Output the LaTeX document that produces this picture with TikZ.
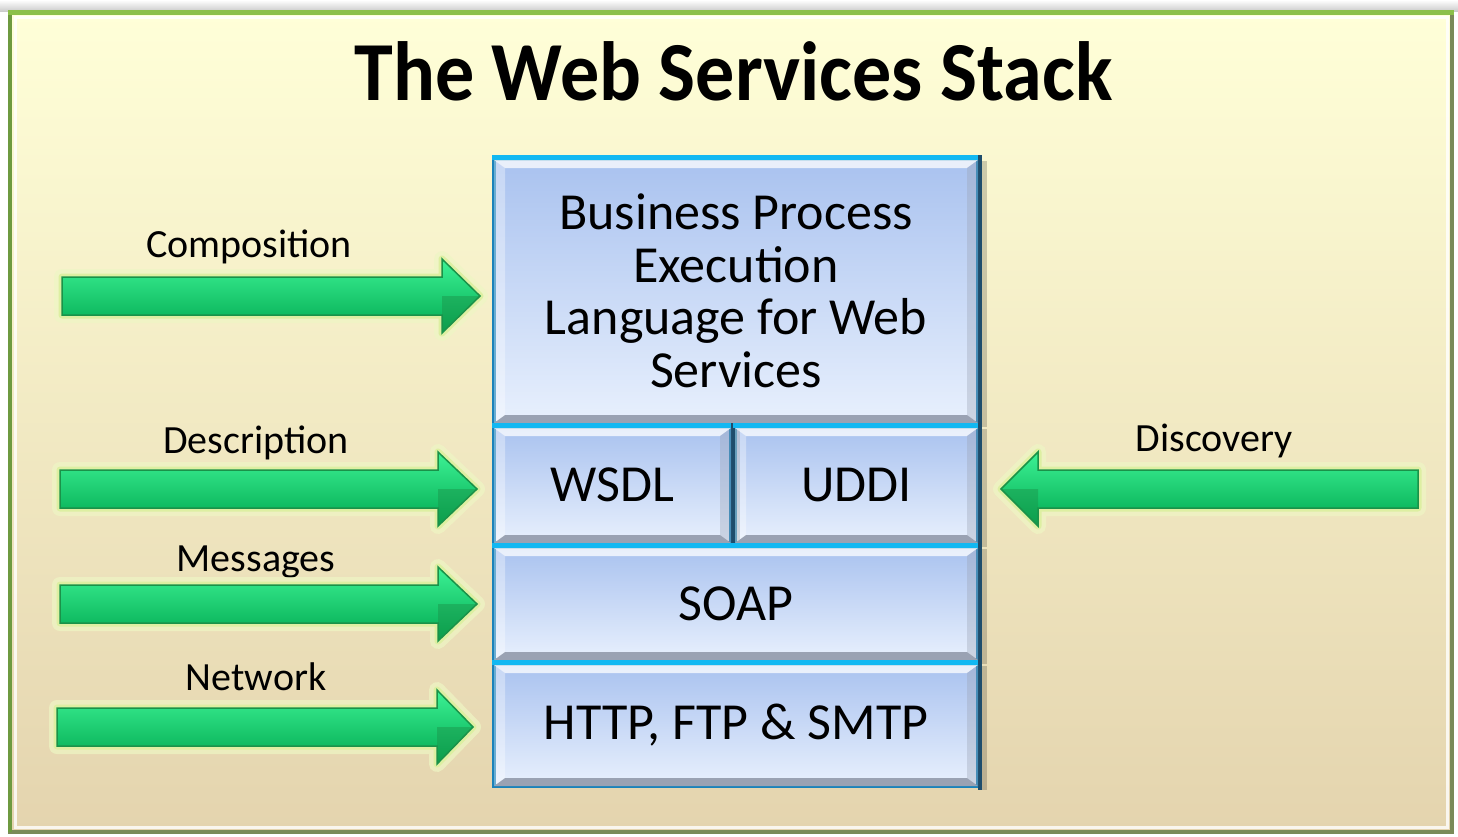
\documentclass[tikz,border=0pt]{standalone}
\usepackage{fontspec}
\setmainfont{Carlito}
\usetikzlibrary{calc}
\definecolor{bgtop}{HTML}{FFFFD8}
\definecolor{bgmid}{HTML}{FDF8E2}
\definecolor{bgbot}{HTML}{E4D4AE}
\definecolor{frameG}{HTML}{8CC04A}
\definecolor{frameL}{HTML}{6E9A40}
\definecolor{frameOl}{HTML}{7A8A58}
\definecolor{boxborder}{HTML}{1B82BA}
\definecolor{boxdark}{HTML}{1E4D6C}
\definecolor{boxcyan}{HTML}{12B8F2}
\definecolor{boxtop}{HTML}{A9C2EF}
\definecolor{boxbot}{HTML}{E8F0FD}
\definecolor{bevelgray}{HTML}{9AA2B3}
\definecolor{arrowlight}{HTML}{3DF295}
\definecolor{arrowmid}{HTML}{0FC767}
\definecolor{arrowdark}{HTML}{00A84F}
\definecolor{arrowedge}{HTML}{1A9249}
\definecolor{glowA}{HTML}{EEF6C4}
\definecolor{glowB}{HTML}{DDEFA2}
\definecolor{titleglow}{HTML}{D6EE9C}

\newcommand{\arrowpath}[3]{($(#1)+(0,-19)$) -- ($(#2)+(#3,-19)$) -- ($(#2)+(#3,-37)$) -- (#2) -- ($(#2)+(#3,37)$) -- ($(#2)+(#3,19)$) -- ($(#1)+(0,19)$) -- cycle}
\newcommand{\greenarrow}[3]{%
  \draw[glowA, line width=16, line join=round, opacity=.7] \arrowpath{#1}{#2}{#3};
  \draw[glowB, line width=7, line join=round] \arrowpath{#1}{#2}{#3};
  \path[arrowfill] \arrowpath{#1}{#2}{#3};
  \fill[arrowedge, opacity=.45] ($(#2)+(#3,0)$) -- (#2) -- ($(#2)+(#3,37)$) -- cycle;
  \draw[arrowedge, line width=1.5, line join=miter] \arrowpath{#1}{#2}{#3};
}
\newcommand{\boxbevel}[1]{%
  \fill[black, opacity=.18] ($(#1.north east)+(2,4)$) rectangle ($(#1.south east)+(7,2)$);
  \draw[boxdark, line width=4] ($(#1.north east)+(0,-2)$) -- ($(#1.south east)+(0,2)$);
  \fill[boxcyan] ($(#1.north west)+(0,-2)$) rectangle ($(#1.north east)+(-2,3)$);
  \fill[white, opacity=.75] ($(#1.north west)+(2,3)$) -- ($(#1.north east)+(-2,3)$) -- ($(#1.north east)+(-13,11)$) -- ($(#1.north west)+(13,11)$) -- cycle;
  \fill[bevelgray] ($(#1.south west)+(2,-2)$) -- ($(#1.south east)+(-2,-2)$) -- ($(#1.south east)+(-13,-10)$) -- ($(#1.south west)+(13,-10)$) -- cycle;
  \fill[white, opacity=.35] ($(#1.north west)+(2,3)$) -- ($(#1.north west)+(13,11)$) -- ($(#1.south west)+(13,-10)$) -- ($(#1.south west)+(2,-2)$) -- cycle;
  \fill[bevelgray, opacity=.35] ($(#1.north east)+(-2,3)$) -- ($(#1.north east)+(-13,11)$) -- ($(#1.south east)+(-13,-10)$) -- ($(#1.south east)+(-2,-2)$) -- cycle;
}

\begin{document}
\begin{tikzpicture}[x=1pt, y=-1pt,
  arrowfill/.style={top color=arrowlight, middle color=arrowmid, bottom color=arrowdark},
  stackbox/.style={draw=boxborder, line width=4, top color=boxtop, bottom color=boxbot,
    inner sep=0, align=center, font=\fontsize{52}{52.5}\selectfont, text=black},
  sidelabel/.style={anchor=base, inner sep=0, font=\fontsize{40}{48}\selectfont, text=black},
  titletext/.style={anchor=base, inner sep=0, font=\fontsize{84}{90}\bfseries, text=black}]
\useasboundingbox (0,0) rectangle (1458,836);
% page and frame
\fill[white] (0,0) rectangle (1458,836);
\shade[top color=white, bottom color=black!20] (0,0) rectangle (1458,11);
\shade[top color=bgtop, middle color=bgmid, bottom color=bgbot] (10,12) rectangle (1452,832);
\draw[white, line width=3, opacity=.8] (15,17) rectangle (1447,827);
\draw[frameOl, line width=4] (10,12) rectangle (1452,832);
\draw[frameL, line width=4] (10,832) -- (10,12);
\draw[frameG, line width=5] (8,12) -- (1454,12);

% title
\node[titletext] (title) at (733.5,100) {\scalebox{0.93}[1]{The Web Services Stack}};

% stack boxes
\node[stackbox, minimum width=484, minimum height=264] (bpel) at (736,291)
  {Business Process\\Execution\\Language for Web\\Services};
\node[stackbox, minimum width=237, minimum height=116] (wsdl) at (612.5,485) {WSDL};
\node[stackbox, minimum width=243, minimum height=116] (uddi) at (856.5,485) {UDDI};
\node[stackbox, minimum width=484, minimum height=113] (soap) at (736,603.5) {SOAP};
\node[stackbox, minimum width=484, minimum height=122] (http) at (736,725) {HTTP, FTP \& SMTP};
\boxbevel{bpel}
\boxbevel{wsdl}
\boxbevel{uddi}
\boxbevel{soap}
\boxbevel{http}

% side labels
\node[sidelabel] (lcomp) at (249,257) {Composition};
\node[sidelabel] (ldesc) at (256,453) {Description};
\node[sidelabel] (lmsg) at (256,571) {Messages};
\node[sidelabel] (lnet) at (256,690) {Network};
\node[sidelabel] (ldisc) at (1214,451) {Discovery};

% arrows
\coordinate (compT) at (62,296);   \coordinate (compH) at (480,296);
\coordinate (descT) at (60,489);   \coordinate (descH) at (477,489);
\coordinate (msgT) at (60,604);    \coordinate (msgH) at (477,604);
\coordinate (netT) at (57,727);    \coordinate (netH) at (473,727);
\coordinate (discT) at (1418,489); \coordinate (discH) at (1001,489);
\greenarrow{compT}{compH}{-38}
\greenarrow{descT}{descH}{-39}
\greenarrow{msgT}{msgH}{-39}
\greenarrow{netT}{netH}{-36}
\greenarrow{discT}{discH}{37}
\end{tikzpicture}
\end{document}
